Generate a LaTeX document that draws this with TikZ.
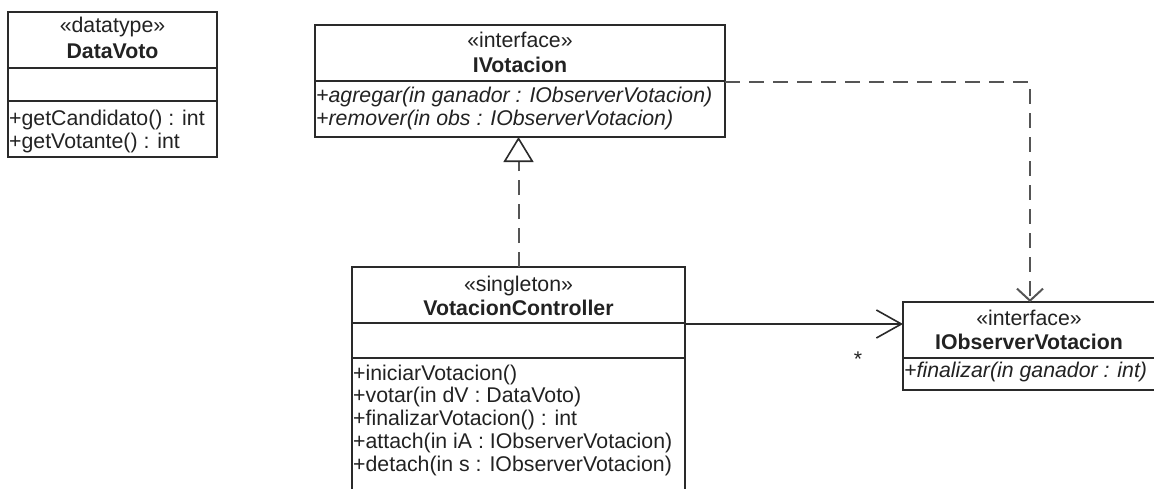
\documentclass[tikz,border=0pt]{standalone}
\usepackage{fontspec}
\setmainfont{Liberation Sans}
\usetikzlibrary{arrows.meta}
\definecolor{linec}{HTML}{2A2A2A}
\definecolor{depc}{HTML}{555555}
\definecolor{textc}{HTML}{222222}
\begin{document}
\begin{tikzpicture}[x=1pt,y=-1pt,
  umlbox/.style={draw=linec, line width=1.6pt, rectangle, inner sep=0pt, outer sep=0pt, anchor=north west, fill=white},
  txt/.style={inner sep=0pt, font=\fontsize{21.3}{23}\selectfont, text=textc},
  ttl/.style={txt, anchor=base},
  ttlb/.style={txt, anchor=base, font=\fontsize{21.3}{23}\selectfont\bfseries},
  mth/.style={txt, anchor=base west},
  mthi/.style={txt, anchor=base west, font=\fontsize{21.3}{23}\selectfont\itshape},
  sepline/.style={draw=linec, line width=1.6pt},
  assoc/.style={draw=linec, line width=1.6pt},
  dep/.style={draw=depc, line width=2pt, dash pattern=on 15pt off 9pt}
]
\useasboundingbox (0,0) rectangle (1154,488);

% boxes
\node[umlbox, minimum width=209pt, minimum height=145pt] (dv) at (8,12) {};
\node[umlbox, minimum width=410pt, minimum height=112pt] (iv) at (315,25) {};
\node[umlbox, minimum width=333pt, minimum height=225pt] (vc) at (352,267) {};
\node[umlbox, minimum width=252pt, minimum height=88pt] (obs) at (903,302) {};

% compartments
\draw[sepline] ([yshift=-56pt]dv.north west) -- ([yshift=-56pt]dv.north east);
\draw[sepline] ([yshift=-89pt]dv.north west) -- ([yshift=-89pt]dv.north east);
\draw[sepline] ([yshift=-56pt]iv.north west) -- ([yshift=-56pt]iv.north east);
\draw[sepline] ([yshift=-56pt]vc.north west) -- ([yshift=-56pt]vc.north east);
\draw[sepline] ([yshift=-91pt]vc.north west) -- ([yshift=-91pt]vc.north east);
\draw[sepline] ([yshift=-56pt]obs.north west) -- ([yshift=-56pt]obs.north east);

% DataVoto texts
\node[ttl] (dvs) at (112.5,32) {«datatype»};
\node[ttlb] (dvn) at (112.5,58) {DataVoto};
\node[mth] (dvm1) at (9,125) {+getCandidato() : int};
\node[mth] (dvm2) at (9,148) {+getVotante() : int};

% IVotacion texts
\node[ttl] (ivs) at (520,47) {«interface»};
\node[ttlb] (ivn) at (520,72) {IVotacion};
\node[mthi] (ivm1) at (316,102) {+agregar(in ganador : IObserverVotacion)};
\node[mthi] (ivm2) at (316,125) {+remover(in obs : IObserverVotacion)};

% VotacionController texts
\node[ttl] (vcs) at (518.5,291) {«singleton»};
\node[ttlb] (vcn) at (518.5,315) {VotacionController};
\node[mth] (vcm1) at (353,380) {+iniciarVotacion()};
\node[mth] (vcm2) at (353,402) {+votar(in dV : DataVoto)};
\node[mth] (vcm3) at (353,425) {+finalizarVotacion() : int};
\node[mth] (vcm4) at (353,448) {+attach(in iA : IObserverVotacion)};
\node[mth] (vcm5) at (353,471) {+detach(in s : IObserverVotacion)};

% IObserverVotacion texts
\node[ttl] (obss) at (1029,325) {«interface»};
\node[ttlb] (obsn) at (1029,349) {IObserverVotacion};
\node[mthi] (obsm1) at (904,377) {+finalizar(in ganador : int)};

% multiplicity
\node[ttl] (mult) at (858,366) {*};

% connectors
\draw[dep, -{Triangle[length=25pt,width=30pt,fill=white,color=linec,line width=1.6pt]}] (vc.north) -- (vc.north |- iv.south);
\draw[assoc, -{Straight Barb[length=25pt,width=28pt]}] ([yshift=-57pt]vc.north east) -- ([yshift=-22pt]obs.north west);
\draw[dep, -{Straight Barb[length=12pt,width=26pt]}] ([yshift=-57pt]iv.north east) -| ([xshift=1pt]obs.north);
\end{tikzpicture}
\end{document}
